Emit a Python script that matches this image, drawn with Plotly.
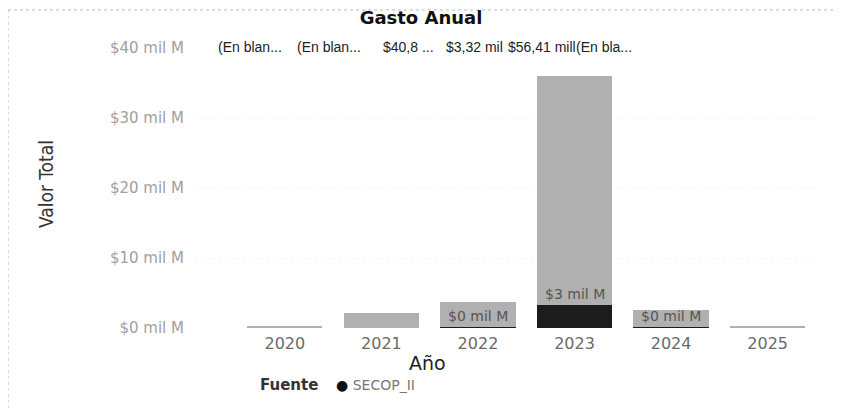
import plotly.graph_objects as go

# ---- data ----
years = ["2020", "2021", "2022", "2023", "2024", "2025"]
secop_ii = [None, None, 0.12, 3.32, 0.12, None]          # mil M (black)
otros = [0.2, 2.2, 3.6, 32.7, 2.5, 0.3]                   # mil M (grey)
secop_labels = ["", "", "$0 mil M", "$3 mil M", "$0 mil M", ""]
top_labels = ["(En blan...", "(En blan...", "$40,8 ...", "$3,32 mil", "$56,41 mill", "(En bla..."]
y_ticks = [0, 10, 20, 30, 40]
y_tick_text = ["$0 mil M", "$10 mil M", "$20 mil M", "$30 mil M", "$40 mil M"]

OFF = 8  # page body margin
W, H = 843 - OFF, 408 - OFF
# target page coordinates (reference)
PL, PR, PT, PB = 195, 815, 48, 328
ML, MR, MT, MB = PL - OFF, W - (PR - OFF), PT - OFF, H - (PB - OFF)
PW = PR - PL
PH = PB - PT


def px2x(px):
    return (px - PL) / PW


def py2y(py):
    return (PB - py) / PH


SANS = "DejaVu Sans, Open Sans"

fig = go.Figure()
fig.add_trace(go.Bar(x=years, y=secop_ii, name="SECOP_II", marker_color="#1c1c1c",
                     marker_line_width=0))
fig.add_trace(go.Bar(x=years, y=otros, name="(En blanco)", marker_color="#b0b0b0",
                     marker_line_width=0))

# SECOP labels above the black segment
for i, (v, t) in enumerate(zip(secop_ii, secop_labels)):
    if t:
        fig.add_annotation(x=i, y=v, text=t, showarrow=False, yanchor="bottom", yshift=1,
                           font=dict(family=SANS, size=14, color="#555555"))

# header labels row
top_x = [216, 295, 381, 444, 506, 574]
for px, t in zip(top_x, top_labels):
    fig.add_annotation(x=px2x(px), xref="paper", y=py2y(47), yref="paper", text=t,
                       showarrow=False, xanchor="left", yanchor="middle",
                       font=dict(family="Liberation Sans, Arial", size=14, color="#222222"))

# y axis title
fig.add_annotation(x=px2x(33), xref="paper", y=py2y(184), yref="paper",
                   text="Valor Total", textangle=-90, showarrow=False,
                   font=dict(family="DejaVu Sans Condensed, Liberation Sans Narrow", size=19, color="#333333"))

# x axis title
fig.add_annotation(x=px2x(427), xref="paper", y=py2y(363), yref="paper",
                   text="Año", showarrow=False, yanchor="middle",
                   font=dict(family=SANS, size=19, color="#222222"))

# legend
fig.add_annotation(x=px2x(258), xref="paper", y=py2y(385), yref="paper",
                   text="<b>Fuente</b>", showarrow=False, xanchor="left", yanchor="middle",
                   font=dict(family=SANS, size=15, color="#333333"))
fig.add_annotation(x=px2x(334), xref="paper", y=py2y(385), yref="paper",
                   text="● <span style='color:#777777'>SECOP_II</span>", showarrow=False,
                   xanchor="left", yanchor="middle",
                   font=dict(family=SANS, size=14, color="#111111"))

# frame lines (dotted border)
fig.add_shape(type="line", xref="paper", yref="paper", x0=px2x(8), x1=px2x(843),
              y0=py2y(10), y1=py2y(10), line=dict(color="#bbbbbb", width=1, dash="dot"))
fig.add_shape(type="line", xref="paper", yref="paper", x0=px2x(8), x1=px2x(8),
              y0=py2y(10), y1=py2y(408), line=dict(color="#bbbbbb", width=1, dash="dot"))

fig.update_layout(
    width=W, height=H,
    margin=dict(l=ML, r=MR, t=MT, b=MB),
    barmode="stack", bargap=0.22,
    plot_bgcolor="white", paper_bgcolor="white",
    showlegend=False,
    title=dict(text="<b>Gasto Anual</b>", x=(421 - OFF) / W, xref="container", xanchor="center",
               y=1 - (18 - OFF) / H, yanchor="middle",
               font=dict(family=SANS, size=18, color="#111111")),
)
fig.update_xaxes(type="category", range=[-0.93, 5.49], showgrid=False, showline=False,
                 ticks="", ticklabelstandoff=4,
                 tickfont=dict(family=SANS, size=16, color="#6a6a6a"))
fig.update_yaxes(range=[0, 40], tickvals=y_ticks, ticktext=y_tick_text, showgrid=True,
                 gridcolor="#f3f3f3", griddash="dot", zeroline=False, showline=False,
                 ticklabelstandoff=10,
                 tickfont=dict(family=SANS, size=15, color="#a0a0a0"))

fig.write_html("out.html")
